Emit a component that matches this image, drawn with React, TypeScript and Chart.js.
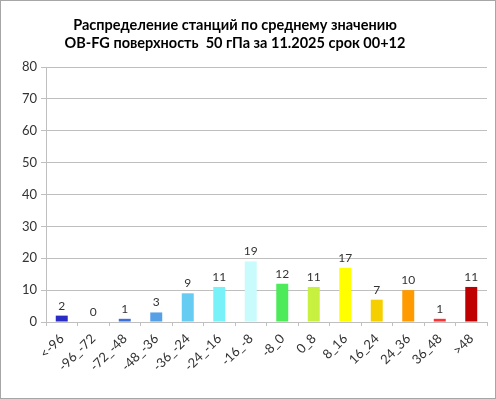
import React, { useEffect, useRef } from "react";
import { Chart, registerables } from "chart.js";

Chart.register(...registerables);

const titleLines = [
  "Распределение станций по среднему значению",
  "OB-FG поверхность  50 гПа за 11.2025 срок 00+12",
];
const categories = [
  "<-96", "-96_-72", "-72_-48", "-48_-36", "-36_-24", "-24_-16", "-16_-8",
  "-8_0", "0_8", "8_16", "16_24", "24_36", "36_48", ">48",
];
const counts = [2, 0, 1, 3, 9, 11, 19, 12, 11, 17, 7, 10, 1, 11];
const barColors = [
  "#2A2AC4", "#3355D0", "#3C6FDA", "#56A0E6", "#66CCF2", "#78F2F8", "#C8FBFB",
  "#4DEB5A", "#C8F040", "#FFFF00", "#F5CF00", "#FF9A00", "#FF3030", "#C00000",
];
const yMin = 0;
const yMax = 80;
const yStep = 10;

const FONT = "Lato, 'Liberation Sans', sans-serif";

const titlePlugin = {
  id: "customTitle",
  afterDraw(chart: any) {
    const ctx = chart.ctx;
    ctx.save();
    ctx.font = `bold 14.5px ${FONT}`;
    ctx.fillStyle = "#000000";
    ctx.textAlign = "center";
    ctx.textBaseline = "middle";
    titleLines.forEach((line, i) => {
      ctx.fillText(line, 234, 24 + i * 18);
    });
    ctx.restore();
  },
};

const valueLabelPlugin = {
  id: "valueLabels",
  afterDatasetsDraw(chart: any) {
    const ctx = chart.ctx;
    const meta = chart.getDatasetMeta(0);
    const data = chart.data.datasets[0].data;
    ctx.save();
    ctx.font = `12px ${FONT}`;
    ctx.fillStyle = "#333333";
    ctx.textAlign = "center";
    ctx.textBaseline = "bottom";
    meta.data.forEach((bar: any, i: number) => {
      ctx.fillText(String(data[i]), bar.x, bar.y - 4);
    });
    ctx.restore();
  },
};

export default function App() {
  const canvasRef = useRef<HTMLCanvasElement | null>(null);

  useEffect(() => {
    document.body.style.margin = "0";
    const canvas = canvasRef.current;
    if (!canvas) return;
    const chart = new Chart(canvas, {
      type: "bar",
      data: {
        labels: categories,
        datasets: [
          {
            data: counts,
            backgroundColor: barColors,
            borderWidth: 0,
            barPercentage: 0.38,
            categoryPercentage: 1,
          },
        ],
      },
      options: {
        responsive: false,
        animation: false,
        devicePixelRatio: 1,
        layout: { padding: { top: 66, left: 0, right: 8, bottom: 0 } },
        plugins: {
          legend: { display: false },
          title: { display: false },
          tooltip: { enabled: false },
        },
        scales: {
          x: {
            grid: {
              offset: true,
              drawOnChartArea: false,
              drawTicks: true,
              tickLength: 4,
              color: "#BFBFBF",
            },
            border: { color: "#BFBFBF", width: 1 },
            ticks: {
              color: "#333333",
              font: { family: FONT, size: 13 },
              maxRotation: 45,
              minRotation: 45,
              autoSkip: false,
              padding: 5,
            },
            afterFit(scale: any) {
              scale.height = 76;
            },
          },
          y: {
            min: yMin,
            max: yMax,
            ticks: {
              stepSize: yStep,
              color: "#333333",
              font: { family: FONT, size: 13 },
              padding: 4,
            },
            grid: {
              color: "#BFBFBF",
              tickLength: 5,
            },
            border: { color: "#BFBFBF", width: 1 },
            afterFit(scale: any) {
              scale.width = 45;
            },
          },
        },
      },
      plugins: [titlePlugin, valueLabelPlugin],
    });
    return () => chart.destroy();
  }, []);

  return (
    <div
      style={{
        position: "absolute",
        left: 0,
        top: 0,
        width: 496,
        height: 399,
        boxSizing: "border-box",
        border: "1px solid #A6A6A6",
        background: "#FFFFFF",
      }}
    >
      <canvas ref={canvasRef} width={494} height={397} style={{ display: "block" }} />
    </div>
  );
}
